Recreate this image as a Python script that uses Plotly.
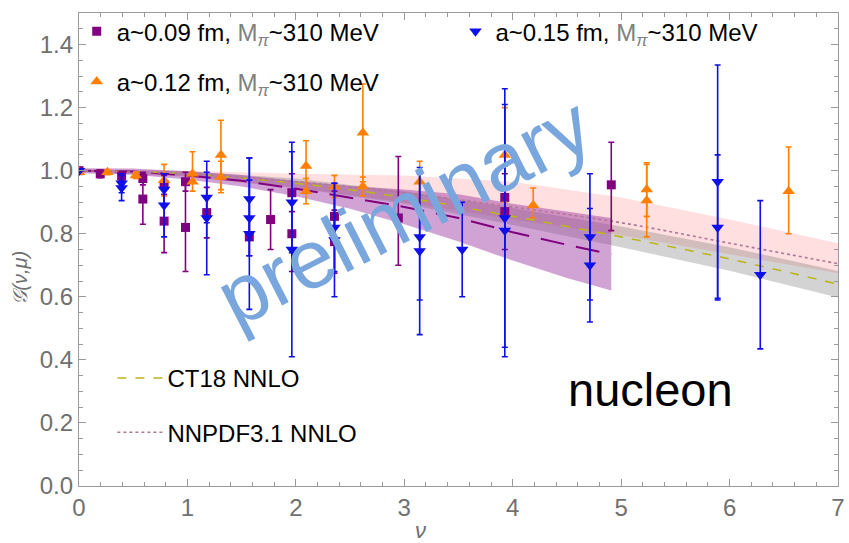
import plotly.graph_objects as go

# ---------------- data ----------------
# a ~ 0.09 fm
nu_09 = [0, 0.196, 0.393, 0.589, 0.589, 0.785, 0.785, 0.982, 0.982, 1.178, 1.571, 1.767,
         1.963, 1.963, 2.356, 2.356, 2.945, 3.927, 3.927, 4.909]
g_09 = [1.0, 0.99, 0.983, 0.975, 0.91, 0.955, 0.84, 0.965, 0.82, 0.867, 0.79, 0.845,
        0.93, 0.80, 0.855, 0.775, 0.85, 0.915, 0.87, 0.955]
ep_09 = [0.005, 0.012, 0.015, 0.02, 0.08, 0.03, 0.1, 0.03, 0.14, 0.08, 0.06, 0.095,
         0.06, 0.12, 0.08, 0.1, 0.195, 0.1, 0.12, 0.135]
em_09 = [0.005, 0.012, 0.015, 0.02, 0.08, 0.03, 0.1, 0.03, 0.14, 0.08, 0.06, 0.095,
         0.06, 0.12, 0.08, 0.1, 0.15, 0.1, 0.12, 0.145]

# a ~ 0.12 fm
nu_12 = [0, 0.262, 0.524, 0.785, 1.047, 1.047, 1.309, 1.309, 2.094, 2.094, 2.356,
         2.618, 2.618, 3.142, 3.927, 4.189, 5.236, 5.236, 6.545]
g_12 = [0.995, 0.995, 0.985, 0.97, 0.99, 0.965, 1.05, 0.98, 1.015, 0.935, 0.95,
        1.12, 0.95, 0.965, 1.05, 0.89, 0.94, 0.905, 0.935]
ep_12 = [0.005, 0.008, 0.01, 0.05, 0.07, 0.03, 0.11, 0.05, 0.08, 0.04, 0.035,
         0.155, 0.03, 0.065, 0.15, 0.055, 0.085, 0.115, 0.14]
em_12 = [0.005, 0.008, 0.01, 0.05, 0.03, 0.03, 0.11, 0.05, 0.08, 0.04, 0.035,
         0.155, 0.03, 0.065, 0.15, 0.04, 0.085, 0.115, 0.135]

# a ~ 0.15 fm
nu_15 = [0, 0.393, 0.393, 0.785, 0.785, 1.178, 1.178, 1.571, 1.571, 1.571, 1.963, 1.963,
         2.356, 2.356, 3.142, 3.142, 3.534, 3.927, 3.927, 4.712, 4.712, 5.890, 5.890, 6.283]
g_15 = [1.0, 0.96, 0.945, 0.94, 0.89, 0.915, 0.85, 0.91, 0.85, 0.80, 0.90, 0.75,
        0.82, 0.78, 0.79, 0.745, 0.75, 0.85, 0.81, 0.79, 0.70, 0.965, 0.82, 0.67]
ep_15 = [0.005, 0.03, 0.04, 0.05, 0.1, 0.08, 0.18, 0.13, 0.12, 0.24, 0.16, 0.34,
         0.14, 0.18, 0.2, 0.265, 0.15, 0.41, 0.4, 0.2, 0.18, 0.37, 0.23, 0.235]
em_15 = ep_15

# lattice fit band
nu_fit = [0, 0.5, 1.0, 1.5, 2.0, 2.5, 3.0, 3.5, 4.0, 4.5, 4.909]
g_fit = [1.0, 0.997, 0.985, 0.968, 0.943, 0.915, 0.885, 0.85, 0.805, 0.765, 0.735]
hw_fit = [0.008, 0.01, 0.013, 0.018, 0.024, 0.036, 0.055, 0.075, 0.09, 0.105, 0.115]

# global fits
nu_pdf = [0, 1, 2, 3, 4, 5, 6, 7]
g_nnpdf = [1.0, 0.99, 0.965, 0.93, 0.885, 0.835, 0.77, 0.705]
up_nnpdf = [1.005, 1.0, 0.99, 0.985, 0.965, 0.915, 0.845, 0.77]
lo_nnpdf = [0.995, 0.98, 0.945, 0.90, 0.845, 0.795, 0.735, 0.675]
g_ct18 = [1.0, 0.99, 0.96, 0.915, 0.855, 0.79, 0.72, 0.64]
hw_ct18 = [0.003, 0.008, 0.015, 0.02, 0.027, 0.033, 0.037, 0.042]

PURPLE = "rgb(128,0,128)"
ORANGE = "rgb(255,128,0)"
BLUE = "rgb(15,15,235)"
GRAY_TXT = "#707070"
AXIS = "#9a9a9a"
FONT = "Liberation Sans, Arial"

fig = go.Figure()

def band(x, lo, hi, color):
    fig.add_trace(go.Scatter(
        x=list(x) + list(x)[::-1], y=list(hi) + list(lo)[::-1],
        fill="toself", fillcolor=color, line=dict(width=0),
        mode="lines", showlegend=False, hoverinfo="skip"))

band(nu_pdf, lo_nnpdf, up_nnpdf, "rgba(255,170,170,0.38)")
band(nu_pdf, [c - h for c, h in zip(g_ct18, hw_ct18)],
     [c + h for c, h in zip(g_ct18, hw_ct18)], "rgba(110,110,110,0.3)")
band(nu_fit, [c - h for c, h in zip(g_fit, hw_fit)],
     [c + h for c, h in zip(g_fit, hw_fit)], "rgba(150,50,160,0.45)")

fig.add_trace(go.Scatter(x=nu_fit, y=g_fit, mode="lines",
                         line=dict(color=PURPLE, width=2, dash="24px,12px"),
                         showlegend=False, hoverinfo="skip"))

fig.add_trace(go.Scatter(x=nu_pdf, y=g_ct18, mode="lines", name="CT18 NNLO",
                         line=dict(color="rgb(190,180,30)", width=1.6, dash="dash", shape="spline"),
                         legend="legend3", legendgroup="ct"))
fig.add_trace(go.Scatter(x=nu_pdf, y=g_nnpdf, mode="lines", name="NNPDF3.1 NNLO",
                         line=dict(color="rgb(175,120,150)", width=1.6, dash="dot", shape="spline"),
                         legend="legend3", legendgroup="nn"))

M_PI = '<span style="color:#808080">M<sub><i>π</i></sub></span>'

def pts(x, y, ep, em, color, symbol, size, name, legend, group):
    fig.add_trace(go.Scatter(
        x=x, y=y, mode="markers", name=name, legend=legend, legendgroup=group,
        marker=dict(color=color, symbol=symbol, size=size),
        error_y=dict(type="data", array=ep, arrayminus=em, color=color,
                     thickness=1.6, width=3)))

pts(nu_09, g_09, ep_09, em_09, PURPLE, "square", 9, f"a~0.09 fm, {M_PI}~310 MeV", "legend", "a09")
pts(nu_12, g_12, ep_12, em_12, ORANGE, "triangle-up", 11, f"a~0.12 fm, {M_PI}~310 MeV", "legend", "a12")
pts(nu_15, g_15, ep_15, em_15, BLUE, "triangle-down", 11, f"a~0.15 fm, {M_PI}~310 MeV", "legend2", "a15")

fig.add_annotation(text="preliminary", xref="paper", yref="paper", x=0.428, y=0.58,
                   xanchor="center", yanchor="middle",
                   showarrow=False, textangle=-27,
                   font=dict(family=FONT, size=83, color="#7aa6de"))
fig.add_annotation(text="nucleon", xref="paper", yref="paper", x=0.753, y=0.203,
                   xanchor="center", yanchor="middle", showarrow=False,
                   font=dict(family=FONT, size=47, color="black"))
fig.add_annotation(text="<i>𝒢(ν,μ)</i>", xref="paper", yref="paper", x=-0.078, y=0.44,
                   xanchor="center", yanchor="middle", showarrow=False, textangle=-90,
                   font=dict(family=FONT, size=20, color=GRAY_TXT))
fig.add_annotation(text="<i>ν</i>", xref="paper", yref="paper", x=0.45, y=-0.094,
                   xanchor="center", yanchor="middle", showarrow=False,
                   font=dict(family=FONT, size=22, color=GRAY_TXT))

axis_common = dict(showline=True, linecolor=AXIS, linewidth=1.2, mirror="allticks",
                   ticks="inside", ticklen=7, tickcolor=AXIS, showgrid=False, zeroline=False,
                   ticklabeloverflow="allow",
                   tickfont=dict(family=FONT, size=24, color=GRAY_TXT))

fig.update_layout(
    width=849, height=543, margin=dict(l=79, r=4, t=13, b=57),
    plot_bgcolor="white", paper_bgcolor="white",
    font=dict(family=FONT, color="black"),
    xaxis=dict(range=[0, 7], dtick=1, tick0=0,
               minor=dict(dtick=0.2, ticks="inside", ticklen=4, tickcolor=AXIS),
               **axis_common),
    yaxis=dict(range=[0, 1.5], dtick=0.2, tick0=0, tickformat=".1f",
               minor=dict(dtick=0.05, ticks="inside", ticklen=4, tickcolor=AXIS),
               **axis_common),
    legend=dict(x=-0.003, y=1.008, xanchor="left", yanchor="top", bgcolor="rgba(0,0,0,0)",
                font=dict(size=24), tracegroupgap=16, traceorder="grouped"),
    legend2=dict(x=0.496, y=1.008, xanchor="left", yanchor="top", bgcolor="rgba(0,0,0,0)",
                 font=dict(size=24)),
    legend3=dict(x=0.044, y=0.275, xanchor="left", yanchor="top", bgcolor="rgba(0,0,0,0)",
                 font=dict(size=24), tracegroupgap=20, traceorder="grouped", itemwidth=45),
)

fig.write_html("out.html")
